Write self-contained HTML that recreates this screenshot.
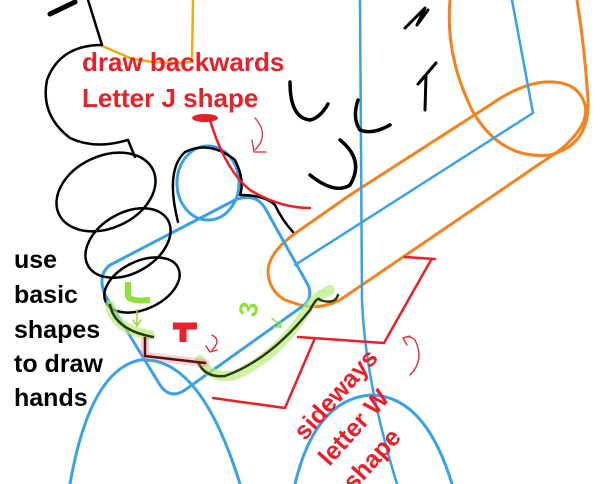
<!DOCTYPE html>
<html><head><meta charset="utf-8"><style>
html,body{margin:0;padding:0;background:#fff;width:600px;height:484px;overflow:hidden}
svg{display:block}
text{font-family:"Liberation Sans",sans-serif;font-weight:bold}
</style></head><body>
<svg width="600" height="484" viewBox="0 0 600 484" xmlns="http://www.w3.org/2000/svg">
<g fill="none" stroke-linecap="round" stroke-linejoin="round">
<path d="M193 0 L192 62 Q160 65 130 58 L100 45" stroke="#f0a818" stroke-width="2.5"/>
<path d="M450 0 Q445 55 472 110 Q500 160 550 155 Q590 145 588 100 Q585 50 577 0" stroke="#f5821f" stroke-width="3"/>
<path d="M300 230 Q270 250 268 270 Q268 290 285 300 L300 305 Q320 310 340 300 L560 150 Q590 125 585 105 Q578 80 545 82 Q520 84 490 105 L350 195 Z" stroke="#f5821f" stroke-width="3"/>
<path d="M295 265 L533 113 L512 0" stroke="#3aa0e8" stroke-width="2.5"/>
<path d="M360 0 L362 300 Q365 380 397 484" stroke="#3aa0e8" stroke-width="2.5"/>
<path d="M70 484 Q90 370 140 360 Q200 355 240 484" stroke="#3aa0e8" stroke-width="3"/>
<path d="M295 484 Q315 400 370 395 Q425 395 452 484" stroke="#3aa0e8" stroke-width="3"/>
<path d="M110 265 L235 200 Q255 192 265 208 L308 285 Q314 300 300 308 L185 390 Q170 400 160 385 L105 295 Q97 275 110 265 Z" stroke="#3aa0e8" stroke-width="3"/>
<ellipse cx="208" cy="183" rx="31" ry="37" stroke="#3aa0e8" stroke-width="3"/>
<path d="M88 0 L102 45 Q60 45 47 80 Q40 115 70 138 Q95 150 128 140 L135 157" stroke="#000" stroke-width="2.5"/>
<path d="M50 14 L75 2" stroke="#000" stroke-width="5"/>
<ellipse cx="106" cy="192" rx="52" ry="36" transform="rotate(-25 106 192)" stroke="#000" stroke-width="2.5"/>
<ellipse cx="128" cy="243" rx="46" ry="30" transform="rotate(-30 128 243)" stroke="#000" stroke-width="2.5"/>
<ellipse cx="142" cy="285" rx="40" ry="24" transform="rotate(-25 142 285)" stroke="#000" stroke-width="2.5"/>
<path d="M178 222 Q165 170 185 152 Q210 140 235 160 Q245 180 240 195 Q265 195 275 205 Q282 220 293 232" stroke="#000" stroke-width="2.5"/>
<path d="M290 82 Q290 118 310 120 Q320 118 328 104" stroke="#000" stroke-width="3.5"/>
<path d="M358 100 Q352 118 360 130 Q372 135 390 125" stroke="#000" stroke-width="3.5"/>
<path d="M340 140 Q365 160 350 185 Q335 195 310 175" stroke="#000" stroke-width="3.5"/>
<path d="M425 110 L426 75 L418 84 L436 63" stroke="#000" stroke-width="3"/>
<path d="M405 28 L425 8 L417 25 L428 10" stroke="#000" stroke-width="3"/>
<ellipse cx="205" cy="118" rx="13" ry="4" fill="#e8202a" stroke="none"/>
<path d="M210 120 Q225 170 250 190 Q280 208 310 208" stroke="#e8202a" stroke-width="2.5"/>
<path d="M255 118 Q270 135 255 150 M252 140 L254 152 L266 152" stroke="#e8202a" stroke-width="1.2"/>
<path d="M110 305 Q115 330 150 335 M200 360 Q210 380 235 375 Q280 355 310 305 Q318 295 330 290" stroke="#b8ec7a" stroke-width="10" opacity="0.7"/>
<path d="M110 305 Q115 330 153 337" stroke="#2a3a10" stroke-width="2.5"/>
<path d="M198 362 Q205 378 225 376 Q270 360 310 310 Q318 295 320 300 Q335 305 338 295" stroke="#2a3a10" stroke-width="2.5"/>
<path d="M145 340 L145 356 L205 363" stroke="#e87a8a" stroke-width="8" opacity="0.35"/>
<path d="M145 338 L145 356 L205 363" stroke="#5a1010" stroke-width="2.5"/>
<path d="M137 310 L137 325 M133 320 L137 326 L141 320" stroke="#8ee03a" stroke-width="1.5"/>
<path d="M272 318 L280 326 M274 327 L281 327 L280 321" stroke="#8ee03a" stroke-width="1.5"/>
<path d="M212 335 Q222 340 212 350 M206 346 L210 352 L217 350" stroke="#e8202a" stroke-width="1.3"/>
<path d="M410 375 Q425 360 415 340 Q410 335 403 338 M403 338 L407 345 M403 338 L410 336" stroke="#e8202a" stroke-width="1.3"/>
<path d="M213 398 L285 408 L315 338 M298 337 L384 343 L431 260 M405 257 L435 259" stroke="#e8202a" stroke-width="2.5"/>
</g>
<path d="M128 282 L128 296 Q130 302 150 300" fill="none" stroke="#8ee03a" stroke-width="6"/>
<text x="0" y="0" font-size="26" fill="#8ee03a" transform="translate(256 318) rotate(-80)">3</text>
<path d="M173 326 L197 326 M183 326 L183 342" stroke="#e8202a" stroke-width="7"/>
<text x="82" y="71" font-size="26" fill="#e8202a">draw backwards</text>
<text x="82" y="107" font-size="26" fill="#e8202a">Letter J shape</text>
<g font-size="25" fill="#000">
<text x="14" y="268">use</text>
<text x="14" y="303">basic</text>
<text x="14" y="338">shapes</text>
<text x="14" y="372">to draw</text>
<text x="14" y="406">hands</text>
</g>
<g font-size="25" fill="#e8202a" text-anchor="middle">
<text transform="translate(342 400) rotate(-48)">sideways</text>
<text transform="translate(360 433) rotate(-48)">letter W</text>
<text transform="translate(378 465) rotate(-48)">shape</text>
</g>
</svg>
</body></html>
